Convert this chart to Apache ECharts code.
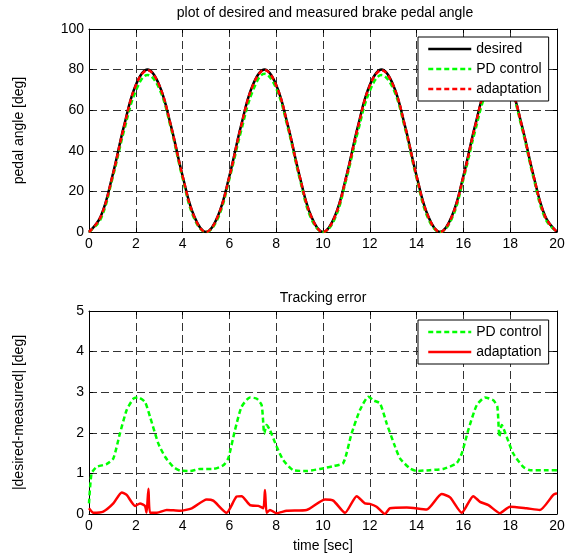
<!DOCTYPE html>
<html>
<head>
<meta charset="utf-8">
<script src="https://cdn.jsdelivr.net/npm/echarts@6/dist/echarts.min.js"></script>
<style>
html, body { margin: 0; padding: 0; background: #fff; }
#main { width: 570px; height: 557px; }
</style>
</head>
<body>
<div id="main"></div>
<script>
// time axis of the upper plot (sec)
var timeTop = [0, 0.5, 1, 1.5, 2, 2.5, 3, 3.5, 4, 4.5,
    5, 5.5, 6, 6.5, 7, 7.5, 8, 8.5, 9, 9.5,
    10, 10.5, 11, 11.5, 12, 12.5, 13, 13.5, 14, 14.5,
    15, 15.5, 16, 16.5, 17, 17.5, 18, 18.5, 19, 19.5, 20];

// pedal angle [deg]
var desired = [0, 7.6, 27.6, 52.4, 72.4, 80, 72.4, 52.4, 27.6, 7.6,
    0, 7.6, 27.6, 52.4, 72.4, 80, 72.4, 52.4, 27.6, 7.6,
    0, 7.6, 27.6, 52.4, 72.4, 80, 72.4, 52.4, 27.6, 7.6,
    0, 7.6, 27.6, 52.4, 72.4, 80, 72.4, 52.4, 27.6, 7.6, 0];
var pdAngle = [0, 6.4, 26.3, 50.0, 69.5, 77.4, 70.7, 51.2, 26.5, 6.5,
    0, 6.5, 26.2, 49.8, 69.5, 77.9, 70.7, 51.2, 26.5, 6.5,
    0, 6.4, 26.2, 49.9, 69.5, 77.3, 70.6, 51.2, 26.5, 6.5,
    0, 6.4, 26.0, 49.7, 69.5, 77.6, 70.9, 51.2, 26.5, 6.5, 0];
var adaptAngle = [0, 7.5, 27.3, 52.0, 72.2, 79.7, 72.3, 52.3, 27.5, 7.4,
    0, 7.5, 27.2, 52.1, 72.1, 79.8, 72.2, 52.2, 27.5, 7.5,
    0, 7.4, 27.3, 52.0, 72.1, 79.7, 72.2, 52.3, 27.4, 7.5,
    0, 7.4, 27.2, 52.0, 72.2, 79.7, 72.2, 52.2, 27.5, 7.4, 0];

// tracking error, PD control
var pdErrT = [0, 0.11, 0.33, 0.75, 1.04, 1.32, 1.61, 1.9, 2.1, 2.39, 2.61, 2.96, 3.25, 3.6, 3.89,
    4.32, 4.74, 5.31, 5.74, 5.95, 6.24, 6.52, 6.88, 7.17, 7.38, 7.49, 7.59, 7.73, 8.02, 8.3,
    8.73, 9.3, 9.87, 10.44, 10.87, 11.22, 11.58, 11.94, 12.15, 12.44, 12.72, 13.08, 13.29, 13.72, 14.0,
    14.57, 15.14, 15.71, 15.93, 16.21, 16.57, 16.92, 17.28, 17.45, 17.54, 17.64, 17.85, 18.13, 18.56, 18.85,
    19.56, 20];
var pdErrV = [0.26, 1.0, 1.16, 1.23, 1.37, 1.98, 2.56, 2.84, 2.87, 2.76, 2.39, 1.74, 1.41, 1.16, 1.07,
    1.06, 1.11, 1.11, 1.2, 1.37, 2.07, 2.64, 2.87, 2.84, 2.68, 1.98, 2.19, 2.07, 1.66, 1.33,
    1.08, 1.06, 1.11, 1.18, 1.26, 1.98, 2.56, 2.89, 2.8, 2.72, 2.23, 1.66, 1.37, 1.12, 1.06,
    1.08, 1.11, 1.25, 1.49, 2.07, 2.68, 2.87, 2.8, 2.64, 1.9, 2.19, 1.9, 1.49, 1.16, 1.08,
    1.08, 1.08];

// tracking error, adaptation
var adErrT = [0, 0.19, 0.61, 1.04, 1.4, 1.61, 1.97, 2.18, 2.39, 2.46, 2.54, 2.61, 2.9, 3.32, 3.89,
    4.39, 5.03, 5.31, 5.88, 6.31, 6.52, 6.88, 7.24, 7.45, 7.52, 7.59, 7.73, 8.02, 8.45, 9.3,
    10.09, 10.44, 10.94, 11.44, 11.79, 12.0, 12.29, 12.65, 12.86, 13.58, 14.43, 15.07, 15.43, 15.93, 16.42,
    16.71, 17.07, 17.56, 17.99, 18.7, 19.27, 19.84, 20];
var adErrV = [0.14, 0.03, 0.06, 0.26, 0.53, 0.47, 0.2, 0.26, 0.2, 0.03, 0.62, 0.03, 0.03, 0.1, 0.08,
    0.14, 0.36, 0.33, 0.03, 0.43, 0.44, 0.22, 0.2, 0.14, 0.59, 0.03, 0.1, 0.02, 0.08, 0.1,
    0.36, 0.33, 0.03, 0.44, 0.26, 0.25, 0.18, 0.0, 0.14, 0.16, 0.11, 0.49, 0.41, 0.03, 0.44,
    0.3, 0.22, 0.02, 0.18, 0.14, 0.1, 0.47, 0.51];

var xTicks = ['0', '2', '4', '6', '8', '10', '12', '14', '16', '18', '20'];

function pairs(xs, ys) {
    var out = [];
    for (var i = 0; i < xs.length; i++) out.push([xs[i], ys[i]]);
    return out;
}

var font = 'Liberation Sans, Arial, sans-serif';
var gridLine = { show: true, lineStyle: { color: '#333', type: [8, 4], width: 1 } };
var axisLine = { show: true, onZero: false, lineStyle: { color: '#000', width: 1 } };
var tick = { show: true, inside: true, length: 4, lineStyle: { color: '#000' } };
var lbl = { color: '#000', fontSize: 14, fontFamily: font };
var nameStyle = { color: '#000', fontSize: 14, fontFamily: font };
var dash = [5, 3];

function xAxisFor(gi, showName) {
    return [{
        type: 'value', gridIndex: gi, min: 0, max: 20, interval: 2,
        axisLine: axisLine, axisTick: tick, splitLine: gridLine,
        axisLabel: Object.assign({ margin: 5, formatter: function (v) { return xTicks[v / 2]; } }, lbl),
        name: showName ? 'time [sec]' : '', nameLocation: 'middle', nameGap: 25,
        nameTextStyle: nameStyle
    }, {
        type: 'value', gridIndex: gi, position: 'top', min: 0, max: 20, interval: 2,
        axisLine: axisLine, axisTick: tick, splitLine: { show: false }, axisLabel: { show: false }
    }];
}
function yAxisFor(gi, max, interval, name) {
    return [{
        type: 'value', gridIndex: gi, min: 0, max: max, interval: interval,
        axisLine: axisLine, axisTick: tick, splitLine: gridLine,
        axisLabel: Object.assign({ margin: 5 }, lbl),
        name: name, nameLocation: 'middle', nameGap: 63, nameRotate: 90,
        nameTextStyle: nameStyle
    }, {
        type: 'value', gridIndex: gi, position: 'right', min: 0, max: max, interval: interval,
        axisLine: axisLine, axisTick: tick, splitLine: { show: false }, axisLabel: { show: false }
    }];
}
function legendFor(top, data) {
    return {
        left: 418, top: top, orient: 'vertical', itemWidth: 43, itemHeight: 14, itemGap: 6,
        padding: [5, 7, 5, 9], backgroundColor: '#fff', borderColor: '#000', borderWidth: 1, borderRadius: 0,
        itemStyle: { opacity: 0 },
        textStyle: { fontSize: 14, color: '#000', fontFamily: font },
        data: data
    };
}

var chart = echarts.init(document.getElementById('main'), null, { renderer: 'canvas' });
chart.setOption({
    animation: false,
    backgroundColor: '#fff',
    title: [{
        text: 'plot of desired and measured brake pedal angle', left: 320, top: 1, textAlign: 'center',
        textStyle: { fontSize: 14, fontWeight: 'normal', color: '#000', fontFamily: font }
    }, {
        text: 'Tracking error', left: 318, top: 286, textAlign: 'center',
        textStyle: { fontSize: 14, fontWeight: 'normal', color: '#000', fontFamily: font }
    }],
    grid: [
        { left: 89, top: 29, width: 468, height: 203 },
        { left: 89, top: 311, width: 468, height: 203 }
    ],
    xAxis: xAxisFor(0, false).concat(xAxisFor(1, true)),
    yAxis: yAxisFor(0, 100, 20, 'pedal angle [deg]').concat(yAxisFor(1, 5, 1, '|desired-measured| [deg]')),
    legend: [
        legendFor(37, [
            { name: 'desired', lineStyle: { color: '#000', type: 'solid', width: 2.5 } },
            { name: 'PD control', lineStyle: { color: '#00ff00', type: dash, width: 2.5 } },
            { name: 'adaptation', lineStyle: { color: '#ff0000', type: dash, width: 2.5 } }
        ]),
        legendFor(320, [
            { name: 'PD control', lineStyle: { color: '#00ff00', type: dash, width: 2.5 } },
            { name: 'adaptation', lineStyle: { color: '#ff0000', type: 'solid', width: 2.5 } }
        ])
    ],
    series: [{
        name: 'desired', type: 'line', xAxisIndex: 0, yAxisIndex: 0, symbol: 'none', smooth: 0.4,
        data: pairs(timeTop, desired),
        lineStyle: { color: '#000', width: 2.5 }, itemStyle: { color: '#000' }
    }, {
        name: 'PD control', type: 'line', xAxisIndex: 0, yAxisIndex: 0, symbol: 'none', smooth: 0.4,
        data: pairs(timeTop, pdAngle),
        lineStyle: { color: '#00ff00', width: 2.5, type: dash }, itemStyle: { color: '#00ff00' }
    }, {
        name: 'adaptation', type: 'line', xAxisIndex: 0, yAxisIndex: 0, symbol: 'none', smooth: 0.4,
        data: pairs(timeTop, adaptAngle),
        lineStyle: { color: '#ff0000', width: 2.5, type: dash }, itemStyle: { color: '#ff0000' }
    }, {
        name: 'PD control', type: 'line', xAxisIndex: 2, yAxisIndex: 2, symbol: 'none', smooth: 0.2,
        data: pairs(pdErrT, pdErrV),
        lineStyle: { color: '#00ff00', width: 2.5, type: dash }, itemStyle: { color: '#00ff00' }
    }, {
        name: 'adaptation', type: 'line', xAxisIndex: 2, yAxisIndex: 2, symbol: 'none', smooth: 0.2,
        data: pairs(adErrT, adErrV),
        lineStyle: { color: '#ff0000', width: 2.5 }, itemStyle: { color: '#ff0000' }
    }]
});
</script>
</body>
</html>
